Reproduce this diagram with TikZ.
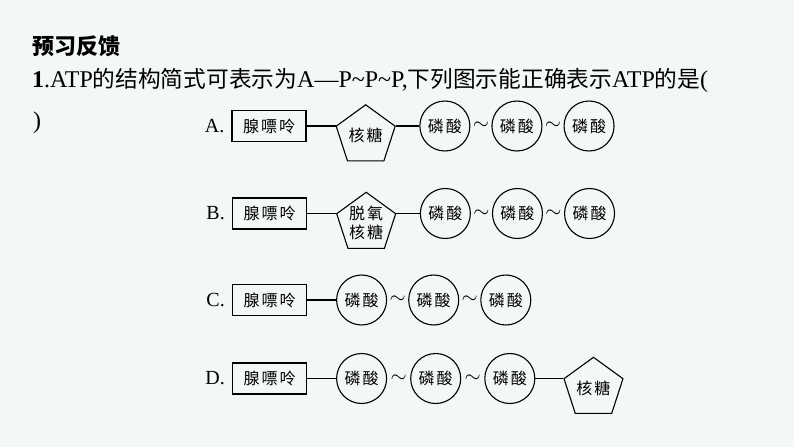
\documentclass[tikz,border=0pt]{standalone}
\usepackage{fontspec}
\setmainfont{Liberation Serif}
\newfontfamily\cjk{Noto Sans CJK SC}
\usetikzlibrary{positioning,shapes.geometric}
\definecolor{slidebg}{RGB}{243,247,245}
\newcommand\kg{\hspace{2pt}}
\newcommand\zh[1]{{\cjk\fontsize{22.7}{22.7}\selectfont #1}}

\tikzset{
  base/.style={draw, line width=1.1pt, inner sep=0pt, font=\cjk\fontsize{16}{19}\selectfont},
  basebox/.style={base, minimum width=74pt, minimum height=31pt},
  sugar/.style={base, regular polygon, regular polygon sides=5, minimum size=62pt, align=center},
  phos/.style={base, circle, minimum size=50pt},
  wave/.style={font=\fontsize{22}{22}\selectfont},
  opt/.style={font=\fontsize{20}{20}\selectfont, inner sep=0pt},
  bond/.style={line width=1.1pt}
}

\begin{document}
\begin{tikzpicture}[x=1pt,y=-1pt]
  \fill[slidebg] (0,0) rectangle (794,447);
  \useasboundingbox (0,0) rectangle (794,447);

  % heading and question
  \node[anchor=base west, inner sep=0pt, font=\cjk\bfseries\fontsize{22}{22}\selectfont] (title) at (32,54) {预习反馈};
  \node[anchor=base west, inner sep=0pt, font=\fontsize{24}{24}\selectfont] (ques) at (32,87)
    {\textbf{1}.ATP\zh{的结构简式可表示为}A—P\textasciitilde P\textasciitilde P,\zh{下列图示能正确表示}ATP\zh{的是}(};
  \node[anchor=base west, inner sep=0pt, font=\fontsize{24}{24}\selectfont] (close) at (33,128) {)};

  % A
  \node[basebox] (a0) at (269,126) {腺\kg 嘌\kg 呤};
  \node[opt, left=7pt of a0] (la) {A.};
  \node[sugar, right=29pt of a0.east, anchor=corner 2] (a1) {核\kg 糖};
  \node[phos, right=23.5pt of a1.corner 5] (a2) {磷\kg 酸};
  \node[phos, right=21pt of a2] (a3) {磷\kg 酸};
  \node[phos, right=21pt of a3] (a4) {磷\kg 酸};
  \draw[bond] (a0) -- (a1.corner 2);
  \draw[bond] (a1.corner 5) -- (a2);
  \path (a2) -- node[wave] {$\sim$} (a3);
  \path (a3) -- node[wave] {$\sim$} (a4);

  % B
  \node[basebox] (b0) at (269.5,213.5) {腺\kg 嘌\kg 呤};
  \node[opt, left=7pt of b0] (lb) {B.};
  \node[sugar, right=29pt of b0.east, anchor=corner 2] (b1) {脱\kg 氧\\核\kg 糖};
  \node[phos, right=23.5pt of b1.corner 5] (b2) {磷\kg 酸};
  \node[phos, right=21pt of b2] (b3) {磷\kg 酸};
  \node[phos, right=21pt of b3] (b4) {磷\kg 酸};
  \draw[bond] (b0) -- (b1.corner 2);
  \draw[bond] (b1.corner 5) -- (b2);
  \path (b2) -- node[wave] {$\sim$} (b3);
  \path (b3) -- node[wave] {$\sim$} (b4);

  % C
  \node[basebox] (c0) at (269.5,300) {腺\kg 嘌\kg 呤};
  \node[opt, left=7pt of c0] (lc) {C.};
  \node[phos, right=29pt of c0] (c1) {磷\kg 酸};
  \node[phos, right=21pt of c1] (c2) {磷\kg 酸};
  \node[phos, right=21pt of c2] (c3) {磷\kg 酸};
  \draw[bond] (c0) -- (c1);
  \path (c1) -- node[wave] {$\sim$} (c2);
  \path (c2) -- node[wave] {$\sim$} (c3);

  % D
  \node[basebox] (d0) at (269.5,378.5) {腺\kg 嘌\kg 呤};
  \node[opt, left=7pt of d0] (ld) {D.};
  \node[phos, right=29pt of d0] (d1) {磷\kg 酸};
  \node[phos, right=23pt of d1] (d2) {磷\kg 酸};
  \node[phos, right=23pt of d2] (d3) {磷\kg 酸};
  \node[sugar, right=28pt of d3.east, anchor=corner 2] (d4) {核\kg 糖};
  \draw[bond] (d0) -- (d1);
  \path (d1) -- node[wave] {$\sim$} (d2);
  \path (d2) -- node[wave] {$\sim$} (d3);
  \draw[bond] (d3) -- (d4.corner 2);
\end{tikzpicture}
\end{document}
